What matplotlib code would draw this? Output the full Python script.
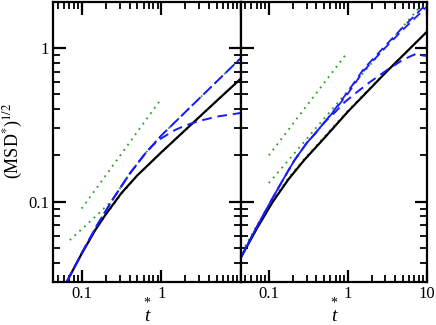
import matplotlib
matplotlib.use("Agg")
import matplotlib.pyplot as plt
from matplotlib.ticker import LogLocator, NullFormatter, FixedLocator, FixedFormatter

plt.rcParams['font.family'] = ['Liberation Serif', 'DejaVu Serif']
plt.rcParams['mathtext.fontset'] = 'stix'

# ---- left panel data ----
left_black_t = [0.065, 0.1, 0.15, 0.2, 0.316, 0.5, 1, 2, 5, 10]
left_black_y = [0.03, 0.0457, 0.0658, 0.0822, 0.1135, 0.148, 0.209, 0.292, 0.454, 0.632]

left_blue_up_t = [0.065, 0.1, 0.158, 0.251, 0.398, 0.631, 1, 2, 5, 10]
left_blue_up_y = [0.03, 0.046, 0.0708, 0.105, 0.151, 0.206, 0.269, 0.382, 0.607, 0.86]

left_blue_lo_t = [0.065, 0.1, 0.158, 0.251, 0.398, 0.631, 0.8, 1, 1.5, 2, 3, 5, 10]
left_blue_lo_y = [0.03, 0.046, 0.0708, 0.105, 0.151, 0.206, 0.235, 0.258, 0.293, 0.313, 0.335, 0.358, 0.378]

left_green_a_t = [0.071, 0.1, 0.15, 0.22, 0.251, 0.398, 0.631, 1, 2, 5, 10]
left_green_a_y = [0.056, 0.066, 0.08, 0.097, 0.105, 0.151, 0.206, 0.269, 0.382, 0.607, 0.86]

left_green_b_t = [0.1, 0.15, 0.2, 0.316, 0.5, 1, 2, 5, 10]
left_green_b_y = [0.0465, 0.066, 0.0815, 0.112, 0.147, 0.208, 0.291, 0.453, 0.632]

left_green_fit_t = [0.1, 0.95]
left_green_fit_y = [0.09, 0.45]

# ---- right panel data ----
right_black_t = [0.044, 0.0708, 0.112, 0.178, 0.282, 0.5, 1, 3.16, 10]
right_black_y = [0.043, 0.067, 0.0995, 0.14, 0.187, 0.258, 0.385, 0.71, 1.276]

right_blue_a_t = [0.044, 0.07, 0.11, 0.16, 0.21, 0.3, 0.38, 0.51, 0.7, 1, 1.6, 3, 5, 10]
right_blue_a_y = [0.043, 0.068, 0.104, 0.146, 0.185, 0.24, 0.275, 0.33, 0.405, 0.52, 0.735, 1.04, 1.37, 1.95]

right_blue_b_t = [0.044, 0.07, 0.11, 0.16, 0.21, 0.3, 0.38, 0.51, 0.7, 1, 1.6, 3, 5, 10]
right_blue_b_y = [0.043, 0.068, 0.104, 0.146, 0.185, 0.24, 0.275, 0.33, 0.4, 0.505, 0.715, 1.01, 1.32, 1.86]

right_blue_c_t = [0.044, 0.07, 0.11, 0.16, 0.21, 0.3, 0.38, 0.51, 0.7, 0.87, 1.2, 1.9, 3.1, 5, 7, 10]
right_blue_c_y = [0.043, 0.068, 0.104, 0.146, 0.185, 0.24, 0.275, 0.33, 0.385, 0.435, 0.5, 0.6, 0.717, 0.84, 0.91, 0.89]

right_green_a_t = [0.05, 0.0708, 0.112, 0.178, 0.282, 0.5, 1, 3.16, 10]
right_green_a_y = [0.051, 0.07, 0.102, 0.143, 0.19, 0.263, 0.39, 0.715, 1.28]

right_green_b_t = [0.1, 8.5]
right_green_b_y = [0.132, 1.9]

right_green_fit_t = [0.1, 0.93]
right_green_fit_y = [0.2, 0.9]

xlim = (0.044, 10)
ylim = (0.03, 2.0)

BLUE = '#1a1aff'
GREEN = '#22a022'


def style_axis(ax, show_ylabels, xlabels):
    ax.set_xscale('log')
    ax.set_yscale('log')
    ax.set_xlim(*xlim)
    ax.set_ylim(*ylim)
    for s in ax.spines.values():
        s.set_linewidth(1.6)
    ax.xaxis.set_major_locator(FixedLocator([0.1, 1, 10]))
    ax.xaxis.set_major_formatter(FixedFormatter(xlabels))
    ax.xaxis.set_minor_locator(LogLocator(base=10, subs=range(2, 10)))
    ax.xaxis.set_minor_formatter(NullFormatter())
    ax.yaxis.set_major_locator(FixedLocator([0.1, 1]))
    ax.yaxis.set_major_formatter(FixedFormatter(['0.1', '1'] if show_ylabels else ['', '']))
    ax.yaxis.set_minor_locator(LogLocator(base=10, subs=range(2, 10)))
    ax.yaxis.set_minor_formatter(NullFormatter())
    ax.tick_params(which='both', direction='in', top=True, right=True, labelsize=12)
    ax.tick_params(which='major', length=9, width=1.6, pad=3)
    ax.tick_params(which='minor', length=5, width=1.3)
    # t* label: asterisk sits above the italic t
    ax.text(0.5, -0.124, 't', transform=ax.transAxes, ha='center', va='center',
            fontsize=14, style='italic')
    ax.text(0.5, -0.076, '*', transform=ax.transAxes, ha='center', va='center',
            fontsize=10)


fig = plt.figure(figsize=(4.36, 3.25), dpi=100)
ax1 = fig.add_axes([0.1223, 0.1332, 0.4298, 0.8606])
ax2 = fig.add_axes([0.5521, 0.1332, 0.4266, 0.8606])

dot = (0, (1, 2.6))

# left panel
ax1.plot(left_green_fit_t, left_green_fit_y, color=GREEN, lw=1.3, ls=dot)
ax1.plot(left_green_a_t, left_green_a_y, color=GREEN, lw=1.3, ls=dot)
ax1.plot(left_green_b_t, left_green_b_y, color=GREEN, lw=1.3, ls=dot)
ax1.plot(left_black_t, left_black_y, color='black', lw=1.6)
ax1.plot(left_blue_up_t, left_blue_up_y, color=BLUE, lw=1.4, ls=(0, (6, 2)))
ax1.plot(left_blue_lo_t, left_blue_lo_y, color=BLUE, lw=1.4, ls=(0, (5, 3)))
style_axis(ax1, True, ['0.1', '1', ''])

# right panel
ax2.plot(right_green_fit_t, right_green_fit_y, color=GREEN, lw=1.3, ls=dot)
ax2.plot(right_green_b_t, right_green_b_y, color=GREEN, lw=1.3, ls=dot)
ax2.plot(right_green_a_t, right_green_a_y, color=GREEN, lw=1.3, ls=dot)
ax2.plot(right_black_t, right_black_y, color='black', lw=1.6)
ax2.plot(right_blue_a_t, right_blue_a_y, color=BLUE, lw=1.3, ls=(0, (5, 3)))
ax2.plot(right_blue_b_t, right_blue_b_y, color=BLUE, lw=1.3, ls=(4, (5, 3)))
ax2.plot(right_blue_c_t, right_blue_c_y, color=BLUE, lw=1.4, ls=(0, (5, 3)))
style_axis(ax2, False, ['0.1', '1', '10'])

fig.text(13 / 436, 0.566, r'(MSD$^{*}$)$^{1/2}$', rotation=90, ha='center', va='center',
         fontsize=13)

fig.savefig('out.png', dpi=100)
